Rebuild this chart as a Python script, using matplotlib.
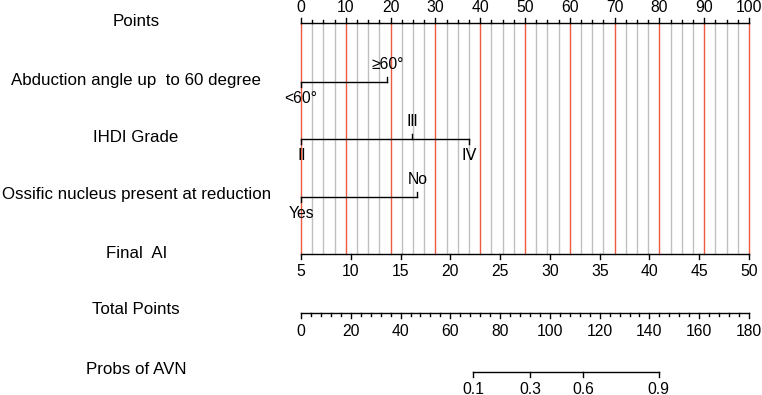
import matplotlib.pyplot as plt

# nomogram for AVN risk

row_labels = ["Points", "Abduction angle up  to 60 degree", "IHDI Grade",
              "Ossific nucleus present at reduction", "Final  AI",
              "Total Points", "Probs of AVN"]

points_ticks = list(range(0, 101, 10))

abduction_levels = ["<60°", "≥60°"]
abduction_points = [0, 19.3]

ihdi_levels = ["Ⅱ", "Ⅲ", "Ⅳ"]
ihdi_points = [0, 24.8, 37.5]

ossific_levels = ["Yes", "No"]
ossific_points = [0, 26.0]

ai_min, ai_max = 5, 50
ai_ticks = list(range(5, 51, 5))

total_max = 180
total_ticks = list(range(0, 181, 20))

prob_labels = ["0.1", "0.3", "0.6", "0.9"]
prob_total_points = [69.2, 92.0, 113.3, 143.7]

RED = "#ef5b3f"
GRAY = "#c0c0c0"
FONT = ["Liberation Sans", "DejaVu Sans"]
plt.rcParams["font.family"] = FONT

fig = plt.figure(figsize=(7.62, 3.95), dpi=100)
ax = fig.add_axes([0, 0, 1, 1])
ax.set_xlim(-67.19, 102.9)
ax.set_ylim(395, 0)
ax.axis("off")

row_y = [22, 80, 137, 195, 254, 310, 370]
label_x = -36.8
for lab, y in zip(row_labels, row_y):
    ax.text(label_x, y, lab, ha="center", va="center", fontsize=12.2)


def ai_to_points(v):
    return (v - ai_min) / (ai_max - ai_min) * 100


def total_to_x(v):
    return v / total_max * 100


# vertical reference lines
top, bottom = 23, 254
k = 0
while k <= 40:
    p = k * 2.5
    ax.plot([p, p], [top, bottom], color=RED if k % 4 == 0 else GRAY,
            lw=1.0, zorder=1)
    k += 1

# Points axis
y = 23
ax.plot([0, 100], [y, y], color="black", lw=1.0, zorder=3)
k = 0
while k <= 40:
    p = k * 2.5
    ln = 5 if k % 4 == 0 else 3
    ax.plot([p, p], [y, y - ln], color="black", lw=1.0, zorder=3)
    k += 1
for t in points_ticks:
    ax.text(t, 8, str(t), ha="center", va="center", fontsize=11.3)


def cat_row(y, levels, pts, above):
    ax.plot([min(pts), max(pts)], [y, y], color="black", lw=1.0, zorder=3)
    for lev, p, up in zip(levels, pts, above):
        if up:
            ax.plot([p, p], [y, y - 5], color="black", lw=1.0, zorder=3)
            ty = y - 17
        else:
            ax.plot([p, p], [y, y + 5], color="black", lw=1.0, zorder=3)
            ty = y + 17
        fam = ["DejaVu Sans"] if lev in ihdi_levels else FONT
        ax.text(p, ty, lev, ha="center", va="center", fontsize=11.3,
                family=fam, zorder=4)


cat_row(81.7, abduction_levels, abduction_points, [False, True])
cat_row(139, ihdi_levels, ihdi_points, [False, True, False])
cat_row(197, ossific_levels, ossific_points, [False, True])

# Final AI axis
y = 254
ax.plot([0, 100], [y, y], color="black", lw=1.0, zorder=3)
for t in ai_ticks:
    p = ai_to_points(t)
    ax.plot([p, p], [y, y + 5], color="black", lw=1.0, zorder=3)
    ax.text(p, y + 18, str(t), ha="center", va="center", fontsize=11.3)

# Total points axis
y = 313
ax.plot([0, 100], [y, y], color="black", lw=1.0)
for t in range(0, total_max + 1, 4):
    p = total_to_x(t)
    ln = 5 if t % 20 == 0 else 3
    ax.plot([p, p], [y, y + ln], color="black", lw=1.0)
for t in total_ticks:
    ax.text(total_to_x(t), y + 18, str(t), ha="center", va="center", fontsize=11.3)

# probability axis
y = 372
xs = [total_to_x(v) for v in prob_total_points]
ax.plot([xs[0], xs[-1]], [y, y], color="black", lw=1.0)
for lab, p in zip(prob_labels, xs):
    ax.plot([p, p], [y, y + 5], color="black", lw=1.0)
    ax.text(p, y + 17, lab, ha="center", va="center", fontsize=11.3)

fig.savefig("out.png", dpi=100)
